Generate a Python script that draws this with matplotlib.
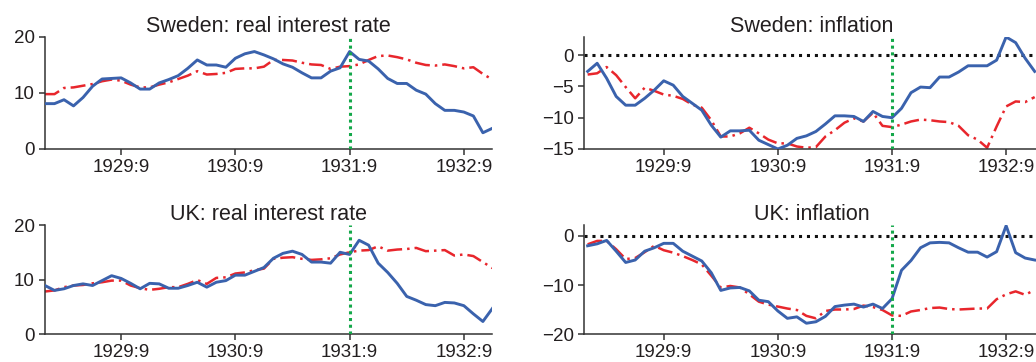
import numpy as np
import matplotlib
matplotlib.use('Agg')
import matplotlib.pyplot as plt

plt.rcParams['font.family'] = ['Liberation Sans', 'DejaVu Sans']

# monthly observations, 1929:1 - 1932:12
months = np.arange(48)
tick_pos = [8, 20, 32, 44]
tick_labels = ['1929:9', '1930:9', '1931:9', '1932:9']
break_month = 32  # 1931:9

swe_rate_actual = [8.1, 8.1, 8.8, 7.7, 9.2, 11.2, 12.5, 12.6, 12.7, 11.8, 10.7, 10.7,
                   11.8, 12.4, 13.1, 14.4, 15.9, 15.0, 15.0, 14.6, 16.2, 17.0, 17.4, 16.8,
                   16.1, 15.2, 14.6, 13.6, 12.7, 12.7, 13.9, 14.5, 17.4, 16.0, 15.7, 14.3,
                   12.6, 11.7, 11.7, 10.5, 9.8, 8.1, 6.9, 6.9, 6.6, 5.9, 2.9, 3.7]
swe_rate_model = [9.8, 9.8, 10.9, 11.0, 11.3, 11.6, 12.1, 12.4, 12.2, 11.5, 11.0, 11.0,
                  11.5, 11.9, 12.5, 13.1, 13.9, 13.3, 13.4, 13.6, 14.3, 14.4, 14.4, 14.7,
                  15.9, 15.9, 15.8, 15.4, 15.1, 15.0, 14.3, 14.7, 14.8, 15.1, 15.9, 16.6,
                  16.7, 16.4, 16.0, 15.4, 15.0, 14.9, 15.1, 14.8, 14.4, 14.6, 13.4, 12.4]

swe_infl_actual = [-2.6, -1.3, -3.7, -6.6, -8.0, -8.0, -6.9, -5.6, -4.1, -4.8, -6.6, -7.7,
                   -8.8, -11.2, -13.1, -12.1, -12.1, -12.0, -13.6, -14.3, -15.0, -14.4, -13.3, -12.9,
                   -12.2, -11.0, -9.7, -9.7, -9.8, -10.6, -9.0, -9.8, -10.0, -8.5, -6.0, -5.1,
                   -5.2, -3.5, -3.5, -2.7, -1.7, -1.7, -1.7, -0.8, 2.9, 2.0, -0.5, -2.6]
swe_infl_model = [-3.1, -2.9, -1.9, -3.2, -5.1, -6.9, -5.2, -5.7, -6.3, -6.5, -7.0, -7.9,
                  -8.4, -10.4, -13.0, -13.0, -12.5, -11.6, -12.5, -13.5, -14.1, -14.1, -14.6, -14.8,
                  -14.7, -13.0, -12.0, -10.8, -10.1, -10.6, -9.2, -11.3, -11.5, -11.1, -10.6, -10.3,
                  -10.4, -10.6, -10.7, -11.3, -12.8, -13.5, -14.8, -11.4, -8.2, -7.4, -7.5, -6.7]

uk_rate_actual = [8.9, 8.0, 8.3, 8.9, 9.2, 8.9, 9.8, 10.7, 10.2, 9.3, 8.3, 9.3,
                  9.2, 8.4, 8.4, 8.9, 9.5, 8.6, 9.5, 9.8, 10.8, 10.8, 11.5, 12.2,
                  13.9, 14.8, 15.2, 14.6, 13.2, 13.2, 13.0, 15.0, 14.6, 17.2, 16.3, 13.0,
                  11.3, 9.3, 6.9, 6.2, 5.4, 5.2, 5.8, 5.7, 5.2, 3.7, 2.3, 4.7]
uk_rate_model = [7.8, 8.0, 8.6, 8.9, 9.0, 9.3, 9.5, 9.8, 9.8, 8.9, 8.4, 8.1,
                 8.3, 8.6, 8.6, 9.2, 9.9, 9.2, 10.3, 10.4, 11.1, 11.3, 11.7, 12.0,
                 13.8, 14.0, 14.1, 13.8, 13.6, 13.7, 13.9, 14.6, 15.0, 15.3, 15.4, 16.1,
                 15.3, 15.5, 15.6, 15.8, 15.2, 15.3, 15.4, 14.4, 14.6, 14.3, 13.2, 12.1]

uk_infl_actual = [-2.0, -1.6, -0.9, -3.1, -5.4, -4.9, -3.1, -2.4, -1.5, -1.5, -3.1, -4.1,
                  -5.1, -7.5, -11.1, -10.6, -10.5, -11.2, -13.1, -13.4, -15.3, -16.8, -16.5, -17.8,
                  -17.5, -16.4, -14.4, -14.1, -13.9, -14.5, -13.9, -14.8, -12.8, -7.0, -5.0, -2.4,
                  -1.4, -1.3, -1.4, -2.4, -3.3, -3.3, -4.3, -3.2, 2.1, -3.4, -4.5, -4.9]
uk_infl_model = [-1.7, -1.0, -1.0, -2.7, -4.7, -4.5, -3.3, -2.0, -2.9, -3.4, -4.1, -4.9,
                 -5.8, -8.1, -10.5, -10.2, -10.5, -11.9, -13.4, -14.0, -14.4, -14.8, -15.1, -16.3,
                 -16.8, -15.3, -15.0, -15.0, -14.9, -14.2, -14.5, -15.1, -16.2, -16.3, -15.4, -15.1,
                 -14.7, -14.6, -14.9, -15.0, -14.9, -14.8, -14.8, -12.9, -11.9, -11.3, -12.0, -11.0]

blue = '#3a62ad'
red = '#e8262c'
green = '#14a84a'
txt = '#231f20'

fig = plt.figure(figsize=(10.36, 3.62), dpi=100)

panels = [
    ('Sweden: real interest rate', swe_rate_actual, swe_rate_model,
     [0.0434, 0.5884, 0.4319, 0.3094], (0, 47), (0, 20), [0, 10, 20], False),
    ('Sweden: inflation', swe_infl_actual, swe_infl_model,
     [0.564, 0.5884, 0.4393, 0.3094], (-0.35, 47.5), (-15, 2.9), [-15, -10, -5, 0], True),
    ('UK: real interest rate', uk_rate_actual, uk_rate_model,
     [0.0434, 0.0773, 0.4319, 0.3011], (0, 47), (0, 20), [0, 10, 20], False),
    ('UK: inflation', uk_infl_actual, uk_infl_model,
     [0.564, 0.0773, 0.4393, 0.3011], (-0.35, 47.5), (-20, 2.24), [-20, -10, 0], True),
]

for title, actual, model, rect, xlim, ylim, yticks, zero_line in panels:
    ax = fig.add_axes(rect)
    if zero_line:
        ax.axhline(0, color='#111111', ls=(0, (1, 1.6)), lw=2.2, zorder=1)
    ax.plot(months, model, color=red, lw=1.8, dashes=[6, 2, 1, 2], zorder=2)
    ax.plot(months, actual, color=blue, lw=2.1, zorder=3)
    ax.axvline(break_month, color=green, ls=(0, (1, 1.2)), lw=2.2, zorder=4)
    ax.set_xlim(*xlim)
    ax.set_ylim(*ylim)
    ax.set_xticks(tick_pos)
    ax.set_xticklabels(tick_labels)
    ax.set_yticks(yticks)
    for s in ['top', 'right']:
        ax.spines[s].set_visible(False)
    for s in ['left', 'bottom']:
        ax.spines[s].set_linewidth(1.1)
        ax.spines[s].set_color('#333333')
    ax.tick_params(axis='both', labelsize=13.5, colors='#333333', labelcolor=txt,
                   length=4.5, width=1.1, pad=3)
    ax.set_title(title, fontsize=15.5, color=txt, pad=3.5)

fig.savefig('out.png', dpi=100)
